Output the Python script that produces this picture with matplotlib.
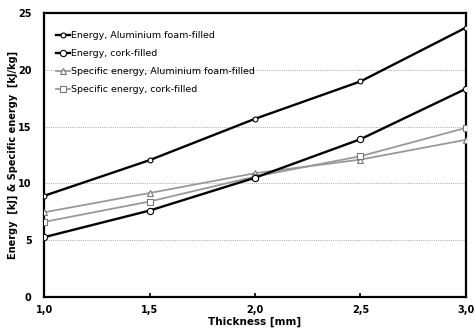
import matplotlib
matplotlib.use("Agg")
import matplotlib.pyplot as plt

thickness = [1.0, 1.5, 2.0, 2.5, 3.0]
energy_al = [8.9, 12.05, 15.7, 19.0, 23.75]
energy_cork = [5.25, 7.6, 10.5, 13.9, 18.35]
spec_al = [7.45, 9.15, 10.9, 12.1, 13.85]
spec_cork = [6.6, 8.4, 10.6, 12.4, 14.9]
xtick_labels = ["1,0", "1,5", "2,0", "2,5", "3,0"]
labels = ["Energy, Aluminium foam-filled", "Energy, cork-filled",
          "Specific energy, Aluminium foam-filled", "Specific energy, cork-filled"]

plt.rcParams['font.family'] = ['DejaVu Sans']
fig = plt.figure(figsize=(4.74, 3.36), dpi=100)
ax = fig.add_axes([0.093, 0.117, 0.890, 0.843])

ax.plot(thickness, energy_al, color='black', lw=1.7, marker='o', ms=3.5,
        mfc='white', mec='black', mew=0.8, label=labels[0], zorder=4)
ax.plot(thickness, energy_cork, color='black', lw=1.7, marker='o', ms=4.5,
        mfc='white', mec='black', mew=0.8, label=labels[1], zorder=4)
ax.plot(thickness, spec_al, color='#999999', lw=1.3, marker='^', ms=4.5,
        mfc='white', mec='#777777', mew=0.8, label=labels[2], zorder=3)
ax.plot(thickness, spec_cork, color='#999999', lw=1.3, marker='s', ms=4.5,
        mfc='white', mec='#777777', mew=0.8, label=labels[3], zorder=3)

ax.set_xlim(1.0, 3.0)
ax.set_ylim(0, 25)
ax.set_xticks(thickness)
ax.set_xticklabels(xtick_labels)
ax.set_yticks([0, 5, 10, 15, 20, 25])
ax.yaxis.grid(True, linestyle=(0, (1, 1.2)), color='#aaaaaa', lw=0.7)
ax.set_axisbelow(True)
for s in ax.spines.values():
    s.set_linewidth(1.6)
ax.tick_params(axis='x', direction='in', length=3, width=1.2, labelsize=7, pad=6)
ax.tick_params(axis='y', direction='out', length=0, labelsize=7, pad=9)
for t in ax.get_xticklabels() + ax.get_yticklabels():
    t.set_fontweight('bold')

ax.set_xlabel("Thickness [mm]", fontsize=7.5, fontweight='bold', labelpad=1)
ax.set_ylabel("Energy  [kJ] & Specific energy  [kJ/kg]", fontsize=7,
              fontweight='bold')
ax.yaxis.set_label_coords(-0.062, 0.5)

leg = ax.legend(loc='upper left', bbox_to_anchor=(0.02, 0.95), frameon=False,
                fontsize=6.8, handlelength=1.4, handletextpad=0.2,
                labelspacing=0.95, borderaxespad=0)

fig.savefig("out.png", dpi=100)
